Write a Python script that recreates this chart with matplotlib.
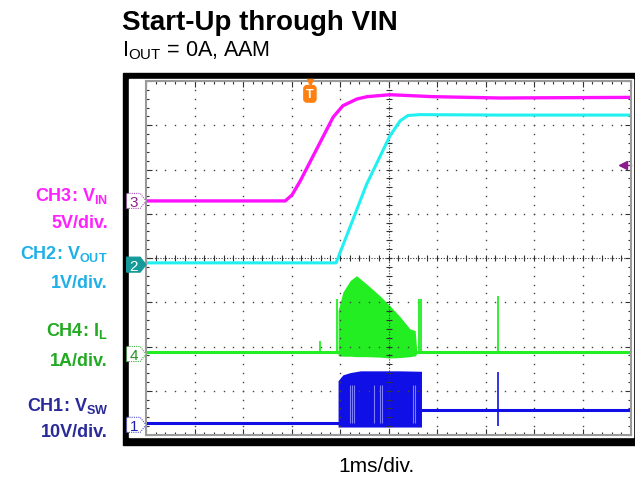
import matplotlib.pyplot as plt
import numpy as np
from matplotlib.patches import Rectangle, Polygon

plt.rcParams['font.family'] = ['Liberation Sans', 'DejaVu Sans']
plt.rcParams['mathtext.fontset'] = 'custom'
plt.rcParams['mathtext.rm'] = 'Liberation Sans'
plt.rcParams['mathtext.bf'] = 'Liberation Sans:bold'

# time axis: ms from left edge of the screen, 1 ms/div, 10 div
t_trig = 3.38

# CH3 VIN (V), 5 V/div
t_vin = [0.0, 2.87, 3.01, 3.18, 3.86, 4.06, 4.35, 4.56, 5.03, 5.92, 7.30, 10.0]
v_vin = [0.0, 0.0, 0.67, 2.25, 9.48, 10.76, 11.52, 11.78, 12.0, 11.78, 11.63, 11.7]

# CH2 VOUT (V), 1 V/div
t_vout = [0.0, 3.92, 4.55, 5.03, 5.24, 5.40, 5.65, 7.30, 10.0]
v_vout = [0.04, 0.04, 1.82, 2.91, 3.25, 3.37, 3.39, 3.38, 3.38]

# CH4 IL (A), 1 A/div
il_base = 0.04
t_il_burst = [3.96, 4.06, 4.21, 4.34, 4.55, 4.82, 5.03, 5.24, 5.44, 5.55, 5.58]
il_hi = [0.98, 1.40, 1.66, 1.77, 1.58, 1.32, 1.09, 0.84, 0.57, 0.53, 0.11]
il_lo = [-0.04, -0.05, -0.05, -0.06, -0.06, -0.07, -0.09, -0.08, -0.06, -0.04, 0.0]
t_il_spikes = [3.59, 3.94, 5.63, 5.67, 7.26]
il_spikes = [0.30, 1.24, 1.24, 1.24, 1.31]

# CH1 VSW (V), 10 V/div
vsw_before = 0.3
vsw_after = 3.35
t_sw_burst = [3.96, 4.06, 4.21, 4.42, 5.24, 5.68]
sw_hi = [9.97, 11.3, 11.8, 12.2, 12.2, 12.1]
sw_lo = -0.5
t_sw_streaks = [4.21, 4.25, 4.28, 4.70, 4.82, 4.86, 5.51, 5.55]
t_sw_spike = 7.25
sw_spike = (-0.2, 11.9)

# channel ground positions (div from bottom) and scales
ch_pos = {'3': 5.29, '2': 3.85, '4': 1.83, '1': 0.23}
ch_scale = {'3': 5.0, '2': 1.0, '4': 1.0, '1': 10.0}


def to_div(ch, v):
    return ch_pos[ch] + np.asarray(v, dtype=float) / ch_scale[ch]


fig = plt.figure(figsize=(6.35, 4.81), dpi=100)
W, H = 635.0, 481.0

# scope screen frame
fig.patches.append(Rectangle((123 / W, 1 - 446 / H), 512 / W, 372 / H,
                             transform=fig.transFigure, color='black', zorder=-2))
fig.patches.append(Rectangle((129 / W, 1 - 438 / H), 504 / W, 358 / H,
                             transform=fig.transFigure, color='white', zorder=-1))

ax = fig.add_axes([146 / W, 1 - 436 / H, 485 / W, 354 / H])
ax.set_zorder(2)
ax.set_xlim(0, 10)
ax.set_ylim(0, 8)
for s in ax.spines.values():
    s.set_color('#9a9a9a')
    s.set_linewidth(1.5)
ax.set_xticks(np.arange(0, 11, 1))
ax.set_yticks(np.arange(0, 9, 1))
ax.set_xticks(np.arange(0, 10.01, 0.2), minor=True)
ax.set_yticks(np.arange(0, 8.01, 0.2), minor=True)
ax.tick_params(which='both', direction='in', top=True, right=True,
               labelbottom=False, labelleft=False, color='#333333', width=0.8)
ax.tick_params(which='major', length=4)
ax.tick_params(which='minor', length=2.5)

# graticule dots
dots = np.arange(0, 10.01, 0.2)
for gx in range(1, 10):
    if gx == 5:
        continue
    ax.plot(np.full(41, gx), np.arange(0, 8.01, 0.2), ls='none', marker='s',
            ms=1.0, color='#444444', mew=0)
for gy in range(1, 8):
    if gy == 4:
        continue
    ax.plot(dots, np.full(len(dots), gy), ls='none', marker='s',
            ms=1.0, color='#444444', mew=0)
# centre lines with ticks
ax.axvline(5, color='#333333', lw=0.8, ls=(0, (1, 1.5)))
ax.axhline(4, color='#333333', lw=0.8, ls=(0, (1, 1.5)))
ax.plot(np.full(41, 5), np.arange(0, 8.01, 0.2), ls='none', marker='_',
        ms=4, color='#333333', mew=0.8)
ax.plot(dots, np.full(len(dots), 4), ls='none', marker='|',
        ms=4, color='#333333', mew=0.8)

c_vin = '#ff10ff'
c_vout = '#20f0f0'
c_il = '#22ee22'
c_sw = '#1010e6'

# CH1 switch node
ax.plot([0, t_sw_burst[0]], to_div('1', [vsw_before, vsw_before]), color=c_sw, lw=2.2)
ax.fill_between(t_sw_burst, to_div('1', sw_lo), to_div('1', sw_hi), color=c_sw, lw=0)
ax.plot([t_sw_burst[-1], 10], to_div('1', [vsw_after, vsw_after]), color=c_sw, lw=2.2)
ax.vlines(t_sw_streaks, to_div('1', 0.5), to_div('1', 9.0), color='#7d7dff', lw=0.8)
ax.vlines(t_sw_spike, to_div('1', sw_spike[0]), to_div('1', sw_spike[1]), color=c_sw, lw=1.2)

# CH4 inductor current
ax.plot([0, 10], to_div('4', [il_base, il_base]), color=c_il, lw=2.2)
ax.fill_between(t_il_burst, to_div('4', il_lo), to_div('4', il_hi), color=c_il, lw=0)
ax.vlines(t_il_spikes, to_div('4', il_base), to_div('4', il_spikes), color=c_il, lw=1.3)

# CH2 and CH3
ax.plot(t_vout, to_div('2', v_vout), color=c_vout, lw=2.2)
ax.plot(t_vin, to_div('3', v_vin), color=c_vin, lw=2.4)

# channel markers at the left edge
def marker(ch, face, edge, txt):
    y = ch_pos[ch]
    pts = [(-0.40, y - 0.17), (-0.12, y - 0.17), (0.0, y), (-0.12, y + 0.17), (-0.40, y + 0.17)]
    ax.add_patch(Polygon(pts, closed=True, fc=face, ec=edge, lw=0.8,
                         ls=(0, (1, 1)) if face == 'white' else '-', clip_on=False, zorder=5))
    ax.text(-0.25, y - 0.02, ch, color=txt, ha='center', va='center', fontsize=11,
            clip_on=False, zorder=6)


marker('3', 'white', '#b050c0', '#902090')
marker('2', '#159a9a', '#159a9a', 'white')
marker('4', 'white', '#40b040', '#209020')
marker('1', 'white', '#5050d0', '#2020b0')

# trigger position and level markers
ax.plot(t_trig, 7.97, marker='v', ms=5, color='#ff7f10', clip_on=False, zorder=6)
ax.text(t_trig, 7.71, 'T', color='white', fontsize=9, fontweight='bold', ha='center',
        va='center', zorder=6,
        bbox=dict(boxstyle='round,pad=0.18,rounding_size=0.25', fc='#ff7f10', ec='#ff7f10'))
ax.plot([9.84, 10], [6.10, 6.10], color='#8b1a8b', lw=1.0, clip_on=False)
ax.plot(9.84, 6.10, marker='<', ms=6, color='#8b1a8b', clip_on=False)

# titles and channel labels
fig.text(122 / W, 1 - 30 / H, 'Start-Up through VIN', fontsize=20, fontweight='bold',
         ha='left', va='baseline')
fig.text(122 / W, 1 - 56 / H, r'I$_{\mathrm{OUT}}$ = 0A, AAM', fontsize=15.5,
         ha='left', va='baseline')
fig.text(376 / W, 1 - 466 / H, '1ms/div.', fontsize=15, ha='center', va='center')

labels = [
    (r'CH3: V$_{\mathbf{IN}}$', 196, '#ff20ff'),
    ('5V/div.', 223, '#ff20ff'),
    (r'CH2: V$_{\mathbf{OUT}}$', 254, '#20b0e8'),
    ('1V/div.', 284, '#20b0e8'),
    (r'CH4: I$_{\mathbf{L}}$', 331, '#22aa22'),
    ('1A/div.', 362, '#22aa22'),
    (r'CH1: V$_{\mathbf{SW}}$', 406, '#2a2a9a'),
    ('10V/div.', 433, '#2a2a9a'),
]
for txt, y, col in labels:
    fig.text(108 / W, 1 - y / H, txt, fontsize=13, fontweight='bold', color=col,
             ha='right', va='center')

fig.savefig('out.png', dpi=100)
